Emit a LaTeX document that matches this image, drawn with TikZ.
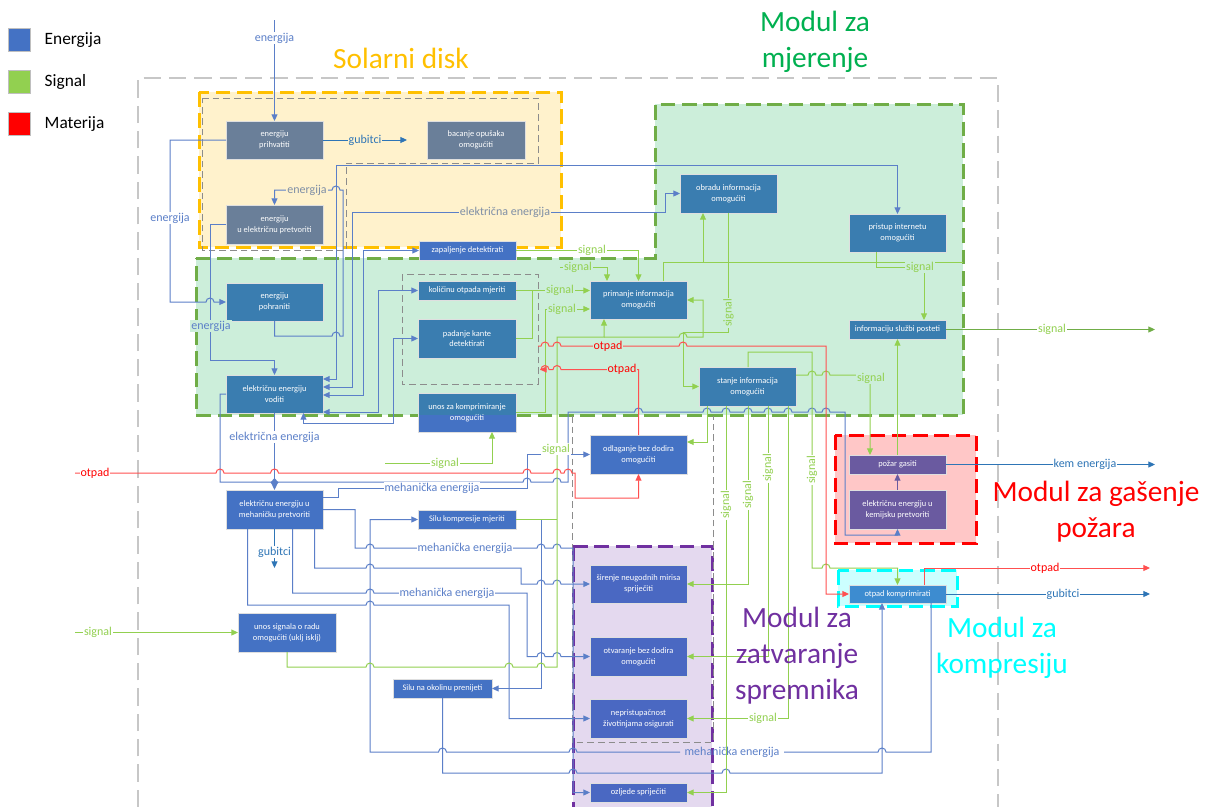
\documentclass[tikz,border=0pt]{standalone}
\usepackage{fontspec}
\setmainfont{Carlito}
\usetikzlibrary{arrows.meta,calc}
\definecolor{enl}{HTML}{5B7FC8}
\definecolor{enD}{HTML}{2E75B6}
\definecolor{sig}{HTML}{92D050}
\definecolor{sigD}{HTML}{70AD47}
\definecolor{matl}{HTML}{FF5050}
\definecolor{yelF}{HTML}{FFF2CC}
\definecolor{yelB}{HTML}{FFC000}
\definecolor{grnF}{HTML}{CCEEDA}
\definecolor{grnB}{HTML}{70AD47}
\definecolor{grnT}{HTML}{00B050}
\definecolor{redF}{HTML}{FFC7C7}
\definecolor{cyaF}{HTML}{CCFFFF}
\definecolor{cyaB}{HTML}{00FFFF}
\definecolor{purF}{HTML}{E4D9EF}
\definecolor{purB}{HTML}{7030A0}
\definecolor{slateN}{HTML}{6A7F99}
\definecolor{tealN}{HTML}{3A7DB0}
\definecolor{blueN}{HTML}{4472C4}
\definecolor{pblN}{HTML}{4A68C2}
\definecolor{purN}{HTML}{6A5AA0}
\definecolor{cmpN}{HTML}{3D8CD0}
\definecolor{greyL}{HTML}{7F8FA6}
\newcommand\drawbox[7]{\node[box,fill=#6,minimum width={(#4-#2)*0.75pt},minimum height={(#5-#3)*0.75pt}] (#1) at ({(#2+#4)/2},{(#3+#5)/2}) {#7};}
\newcommand\hr[2]{-- ({#1-4},#2) arc[start angle=180,end angle=360,radius=4]}
\newcommand\hl[2]{-- ({#1+4},#2) arc[start angle=0,end angle=-180,radius=4]}
\begin{document}
\begin{tikzpicture}[x=0.75pt,y=-0.75pt,
  >={Triangle[length=5pt,width=4.5pt]},
  box/.style={draw=white!75!gray,line width=0.5pt,text=white,font=\fontsize{6.3}{8}\selectfont,align=center,inner sep=0pt,outer sep=0pt},
  en/.style={draw=enl,line width=0.75pt},
  enD/.style={draw=enD,line width=0.75pt},
  sg/.style={draw=sig,line width=0.75pt},
  sgD/.style={draw=sigD,line width=0.75pt},
  mt/.style={draw=matl,line width=0.75pt},
  pu/.style={draw=purN,line width=0.75pt},
  modb/.style={line width=2.25pt,dash pattern=on 11pt off 5pt},
  frame/.style={draw=black!22,line width=0.8pt,dash pattern=on 13pt off 6pt},
  inner/.style={draw=black!45,line width=0.6pt,dash pattern=on 5pt off 3pt},
  lbl/.style={font=\fontsize{9}{10}\selectfont,inner sep=0.8pt,fill=white},
  title/.style={font=\fontsize{22}{27}\selectfont,align=center},
  legsq/.style={draw=black!25,line width=0.6pt,minimum size=17pt,inner sep=0pt}]
\useasboundingbox (0,0) rectangle (1218,807);
\fill[white] (0,0) rectangle (1218,807);

% ---------- frame and modules ----------
\draw[frame] (138,807) -- (138,78) -- (998,78) -- (998,807);
\draw[modb,draw=yelB,fill=yelF] (199,92) rectangle (561,247);
\fill[grnF] (655,104) rectangle (963,415);
\fill[grnF] (196,258) rectangle (963,415);
\draw[modb,draw=grnB] (196,258) -- (655,258) -- (655,104) -- (963,104) -- (963,415) -- (196,415) -- cycle;
\draw[modb,draw=red,fill=redF] (835,435) rectangle (976,543);
\draw[modb,draw=purB,fill=purF] (573,546) rectangle (712,809);
\draw[modb,draw=cyaB,fill=cyaF] (838,570) rectangle (957,606);
\draw[inner] (202,98) -- (538,98) -- (538,163) -- (346,163) -- (346,250) -- (202,250) -- cycle;
\draw[inner] (402,274) rectangle (538,384);
\draw[inner] (572,416) -- (572,742) -- (713,742) -- (713,416);

% ---------- nodes ----------
\drawbox{prih}{226}{121}{323}{159}{slateN}{energiju\\prihvatiti}
\drawbox{bac}{427}{121}{525}{159}{slateN}{bacanje opušaka\\omogućiti}
\drawbox{pret}{226}{205}{323}{244}{slateN}{energiju\\u električnu pretvoriti}
\drawbox{zap}{419}{241}{516}{260}{blueN}{zapaljenje detektirati}
\drawbox{obr}{680}{174}{777}{213}{tealN}{obradu informacija\\omogućiti}
\drawbox{int}{849}{214}{946}{252}{tealN}{pristup internetu\\omogućiti}
\drawbox{pohr}{226}{283}{323}{321}{tealN}{energiju\\pohraniti}
\drawbox{kol}{418}{281}{516}{300}{tealN}{količinu otpada mjeriti}
\drawbox{pad}{418}{319}{516}{358}{tealN}{padanje kante\\detektirati}
\drawbox{prim}{590}{281}{687}{319}{tealN}{primanje informacija\\omogućiti}
\drawbox{info}{849}{320}{946}{339}{tealN}{informaciju službi posteti}
\drawbox{vod}{226}{375}{323}{413}{tealN}{električnu energiju\\voditi}
\fill[blueN] (418,393) rectangle (516,432);
\fill[tealN] (418,393) rectangle (516,415);
\drawbox{unos}{418}{393}{516}{432}{none}{unos za komprimiranje\\omogućiti}
\drawbox{stan}{699}{367}{796}{406}{tealN}{stanje informacija\\omogućiti}
\drawbox{odl}{590}{435}{687}{474}{blueN}{odlaganje bez dodira\\omogućiti}
\drawbox{meh}{226}{490}{323}{529}{blueN}{električnu energiju u\\mehaničku pretvoriti}
\drawbox{silk}{418}{510}{516}{529}{blueN}{Silu kompresije mjeriti}
\drawbox{pozar}{849}{455}{946}{474}{purN}{požar gasiti}
\drawbox{kem}{849}{490}{946}{529}{purN}{električnu energiju u\\kemijsku pretvoriti}
\drawbox{sir}{590}{565}{687}{603}{pblN}{širenje neugodnih mirisa\\spriječiti}
\drawbox{otpk}{849}{585}{946}{603}{cmpN}{otpad komprimirati}
\drawbox{unsig}{238}{613}{336}{652}{blueN}{unos signala o radu\\omogućiti (uklj isklj)}
\drawbox{otv}{590}{637}{687}{676}{pblN}{otvaranje bez dodira\\omogućiti}
\drawbox{silo}{393}{679}{492}{698}{blueN}{Silu na okolinu prenijeti}
\drawbox{nep}{590}{699}{687}{738}{pblN}{nepristupačnost\\životinjama osigurati}
\drawbox{ozl}{590}{783}{687}{802}{pblN}{ozljede spriječiti}

% ---------- free ends ----------
\coordinate (ein) at (274.5,20);
\coordinate (gub1) at (407,140);
\coordinate (gub2) at (274.5,568);
\coordinate (kemout) at (1155,464.5);
\coordinate (gubout) at (1150,594);
\coordinate (sigout) at (1155,329.5);
\coordinate (sgin1) at (75,632.5);
\coordinate (sgin2) at (385,463);
\coordinate (sg3) at (560,267);
\coordinate (otin) at (75,473);
\coordinate (otl) at (540,369.5);
\coordinate (otr) at (538,346);
\coordinate (otout) at (1150,568);

% ---------- energy ----------
\draw[en,->] (ein) -- (prih.north);
\draw[enD,->] (prih.east) -- (gub1);
\draw[en,->] (prih.west) -- (170,140) -- (170,302) \hr{210}{302} -- (pohr.west);
\draw[en,->] (pohr.south) -- (274.5,336) \hr{336}{336} -- (343,336) -- (343,190) \hl{336}{190} -- (274.5,190) -- (pret.north);
\draw[en,<->] ($(vod.east)+(0,-15)$) -- (336,379) -- (336,165) -- (897.5,165) -- (int.north);
\draw[en,<->] ($(vod.east)+(0,-7)$) -- (352,387) -- (352,212) -- (665,212) -- (665,193.5) -- (obr.west);
\draw[en,<->] ($(vod.east)+(0,1)$) -- (363,395) |- (zap.west);
\draw[en,<->] ($(vod.east)+(0,18)$) -- (378,412) |- (kol.west);
\draw[en,<->] ($(vod.south)+(29,0)$) -- (303.5,423) -- (393,423) |- (pad.west);
\draw[en,->] (pret.west) -- (210,224.5) -- (210,360) -| (vod.north);
\draw[en,->] (vod.west) -- (220,394) -- (220,482) \hr{527}{482} \hr{557}{482} -- (568,482) -- (568,412) \hr{638.5}{412} \hr{707}{412} \hr{726}{412} \hr{748}{412} \hr{768}{412} \hr{788}{412} \hr{812}{412} \hr{826}{412} -- (845,412) -- (845,535) -| (kem.south);
\draw[en,->] (vod.south) -- (meh.north);
\fill[enl] (274.5,478) -- (278.5,482.5) -- (274.5,487) -- (270.5,482.5) -- cycle;
\draw[en,->] ($(meh.east)+(0,-12)$) -- (338,497.5) -- (338,488) -- (527,488) |- (odl.west);
\draw[en,->] (meh.east) -- (355,509.5) -- (355,548) \hr{370}{548} \hr{541}{548} \hr{557}{548} -- (573,548) |- (ozl.west);
\draw[en,->] ($(meh.south)+(40,0)$) -- (314.5,568) \hr{370}{568} -- (521,568) -- (521,584) \hr{541}{584} \hr{557}{584} -- (sir.west);
\draw[en,->] ($(meh.south)+(18,0)$) -- (292.5,593) \hr{370}{593} -- (527,593) -- (527,656.5) \hr{541}{656.5} \hr{557}{656.5} -- (otv.west);
\draw[en,->] ($(meh.south)+(-27,0)$) -- (247.5,605) \hr{370}{605} -- (509,605) |- (nep.west);
\draw[enD,->] (meh.south) -- (gub2);
\draw[en] ($(otpk.south)+(33.5,0)$) -- (931,752) \hl{882}{752} -- (784,752);
\draw[en,->] (680,752) \hl{573}{752} \hl{442.5}{752} -- (370,752) |- (silk.west);
\draw[en,->] (silo.south) -- (442.5,773) \hr{573}{773} \hr{726}{773} -- (882,773) -- ($(otpk.south)+(-15.5,0)$);
\draw[en,->] (silk.east) -- (541,519.5) |- (silo.east);
\draw[pu,->] (kem.north) -- (pozar.south);
\draw[enD,->] (pozar.east) -- (kemout);
\draw[enD,->] (otpk.east) -- (gubout);

% ---------- signal ----------
\draw[sg,->] ($(int.south)+(-21.5,0)$) -- (876,267) -| ($(info.north)+(26.5,0)$);
\draw[sgD,->] (info.east) -- (sigout);
\draw[sg,->] (pozar.north) -- (info.south);
\draw[sg,->] ($(stan.east)+(0,-11.5)$) \hr{812}{375} \hr{826}{375} -- (870,375) -- ($(pozar.north)+(-27.5,0)$);
\draw[sg] (silk.east) -- (557,519.5);
\draw[sg,->] (unsig.south) -- (287,667) \hr{370}{667} \hr{509}{667} \hr{541}{667} -- (557,667) -- (557,337) -| ($(prim.south)+(-34.5,0)$);
\draw[sg,->] (604,337) \hr{683}{337} -- (703,337) |- (prim.east);
\draw[sg,->] (sgin1) -- (unsig.west);
\draw[sg,->] (sgin2) -- (492,463) -- ($(unos.south)+(25,0)$);
\draw[sg,->] (zap.east) -- (638.5,250.5) -- (prim.north);
\draw[sg,->] (sg3) -- (607,267) -- ($(prim.north)+(-31.5,0)$);
\draw[sg,->] (kol.east) -- ($(prim.west)+(0,-9.5)$);
\draw[sg] (pad.east) -- (532,338.5) -- (532,290.5);
\draw[sg,->] (unos.east) -- (545,412.5) -- (545,309) -- ($(prim.west)+(0,9)$);
\draw[sg,->] ($(prim.north)+(24.5,0)$) -- (663,262) -| ($(obr.south)+(-25.5,0)$);
\draw[sg] (703,262) -- (963,262);
\draw[sg,->] (obr.south) -- (728.5,332) -- (683,332) |- (stan.west);
\draw[sg,->] ($(stan.south)+(-40.5,0)$) -- (707,442) -- ($(odl.east)+(0,-12.5)$);
\draw[sg,->] ($(stan.south)+(-21.5,0)$) -- (726,792.5) -- (ozl.east);
\draw[sg,->] ($(stan.south)+(0.5,0)$) -- (748,584) -- (sir.east);
\draw[sg,->] ($(stan.south)+(20.5,0)$) -- (768,656.5) -- (otv.east);
\draw[sg,->] ($(stan.south)+(40.5,0)$) -- (788,718.5) -- (nep.east);
\draw[sg,->] ($(stan.north)+(0.5,0)$) -- (748,352) -- (812,352) -- (812,568) \hr{826}{568} -| (otpk.north);

% ---------- matter ----------
\draw[mt,->] (otin) \hr{220}{473} \hr{274.5}{473} \hr{527}{473} \hr{557}{473} \hr{568}{473} -- (575,473) -- (575,498) -| (odl.south);
\draw[mt,->] (odl.north) -- (638.5,369.5) \hl{557}{369.5} \hl{545}{369.5} -- (otl);
\draw[mt,->] (otr) \hr{545}{346} \hr{557}{346} \hr{683}{346} -- (826,346) |- (otpk.west);
\draw[mt,->] ($(otpk.north)+(26.5,0)$) -- (924,568) -- (otout);

% ---------- labels ----------
\node[lbl,text=enl] (l1) at (274.5,38) {energija};
\node[lbl,text=enD,fill=yelF] (l2) at (365,140) {gubitci};
\node[lbl,text=enl] (l3) at (170,218) {energija};
\node[lbl,text=greyL,fill=yelF] (l4) at (307,190) {energija};
\node[lbl,text=greyL,fill=yelF] (l5) at (505,212) {električna energija};
\node[lbl,text=enl,fill=grnF] (l6) at (211,326) {energija};
\node[lbl,text=enl] (l7) at (274.5,437) {električna energija};
\node[lbl,text=red] (l8) at (95,473) {otpad};
\node[lbl,text=enl] (l9) at (432,488) {mehanička energija};
\node[lbl,text=sig] (l10) at (445,463) {signal};
\node[lbl,text=sig] (l11) at (556,449) {signal};
\node[lbl,text=enD] (l12) at (274.5,552) {gubitci};
\node[lbl,text=enl] (l13) at (465,548) {mehanička energija};
\node[lbl,text=enl] (l14) at (447,593) {mehanička energija};
\node[lbl,text=sig] (l15) at (98,632.5) {signal};
\node[lbl,text=enl,fill=none] (l16) at (732,752) {mehanička energija};
\node[lbl,text=sig] (l17) at (763,718.5) {signal};
\node[lbl,text=sig,fill=grnF,rotate=90] (l18) at (728.5,313) {signal};
\node[lbl,text=sig,rotate=90] (l19) at (726,505) {signal};
\node[lbl,text=sig,rotate=90] (l20) at (748,495) {signal};
\node[lbl,text=sig,rotate=90] (l21) at (768,468) {signal};
\node[lbl,text=sig,rotate=90] (l22) at (812,470) {signal};
\node[lbl,text=sig,fill=grnF] (l23) at (920,267) {signal};
\node[lbl,text=sig,fill=grnF] (l24) at (871,378) {signal};
\node[lbl,text=sig] (l25) at (1052,329.5) {signal};
\node[lbl,text=enD] (l26) at (1085,464.5) {kem energija};
\node[lbl,text=red] (l27) at (1045,568) {otpad};
\node[lbl,text=enD] (l28) at (1063,594) {gubitci};
\node[lbl,text=red,fill=grnF] (l29) at (608,346) {otpad};
\node[lbl,text=red,fill=grnF] (l30) at (622,369.5) {otpad};
\node[lbl,text=sig] (l31) at (592,250.5) {signal};
\node[lbl,text=sig,fill=grnF] (l32) at (578,267) {signal};
\node[lbl,text=sig,fill=grnF] (l33) at (560,290.5) {signal};
\node[lbl,text=sig,fill=grnF] (l34) at (562,309) {signal};

% ---------- titles ----------
\node[title,text=yelB] (t1) at (401,58) {Solarni disk};
\node[title,text=grnT] (t2) at (815,42) {Modul za\\mjerenje};
\node[title,text=red] (t3) at (1096,512) {Modul za gašenje\\požara};
\node[title,text=cyaB] (t4) at (1002,648) {Modul za\\kompresiju};
\node[title,text=purB] (t5) at (797,656) {Modul za\\zatvaranje\\spremnika};

% ---------- legend ----------
\node[legsq,fill=blueN] (lg1) at (19.5,40) {};
\node[legsq,fill=sig] (lg2) at (19.5,82) {};
\node[legsq,fill=red] (lg3) at (19.5,124) {};
\node[anchor=west,font=\fontsize{13}{15}\selectfont] (lt1) at (40,40) {Energija};
\node[anchor=west,font=\fontsize{13}{15}\selectfont] (lt2) at (40,82) {Signal};
\node[anchor=west,font=\fontsize{13}{15}\selectfont] (lt3) at (40,124) {Materija};
\end{tikzpicture}
\end{document}
